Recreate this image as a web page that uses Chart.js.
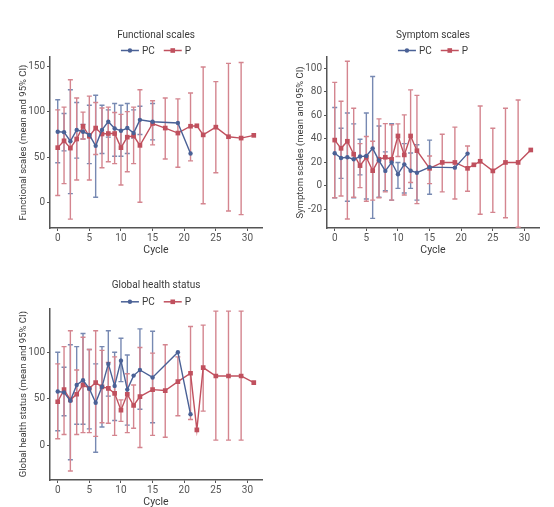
<!DOCTYPE html>
<html>
<head>
<meta charset="utf-8">
<script src="https://cdn.jsdelivr.net/npm/chart.js@4.4.1/dist/chart.umd.min.js"></script>
<style>
  body { margin: 0; background: #fff; width: 554px; height: 507px; position: relative; overflow: hidden; }
  .panel { position: absolute; width: 277px; height: 257px; }
</style>
</head>
<body>
<div class="panel" style="left:0;top:0"><canvas id="func"></canvas></div>
<div class="panel" style="left:277px;top:0"><canvas id="sym"></canvas></div>
<div class="panel" style="left:0;top:250px;height:259px"><canvas id="ghs"></canvas></div>
<script>
// cycles where each group was measured
const pcCycles = [0, 1, 2, 3, 4, 5, 6, 7, 8, 9, 10, 11, 12, 13, 15, 19, 21];
const pCycles = [0, 1, 2, 3, 4, 5, 6, 7, 8, 9, 10, 11, 12, 13, 15, 17, 19, 21, 22, 23, 25, 27, 29, 31];
const cycleTicks = [0, 5, 10, 15, 20, 25, 30];

// Functional scales
const funcPcMean = [78, 77.5, 67.5, 80, 78, 74.5, 62.5, 80, 89, 81.5, 79, 82, 76.5, 91, 89, 87.5, 54];
const funcPcLow = [44, 57, 10, 49, 70, 43, 6, 54, 72, 51, 51, 54, 71, 75, 69, null, null];
const funcPcHigh = [113, 98, 124, 110, 86, 107, 118, 107, 102, 109, 107, 109, 102, 106, 109, null, null];
const funcPMean = [60.5, 68, 60, 70, 84, 73, 82, 75.5, 76, 76, 60.5, 72, 73.5, 63, 87, 82, 76.5, 84, 84.5, 74.5, 83, 72.5, 71, 74];
const funcPLow = [8, 21, -18, 25, 70, 25, 53, 38.5, 45, 43, 19.5, 34, 43, 0.5, 63.5, 48, 39, 46, null, -1, 33, -9, -13, null];
const funcPHigh = [102, 105, 135, 115, 99.5, 117, 110, 104, 105, 99, 97, 100, 105, 124, 112, 115, 114, 120.5, null, 149, 133, 153, 154, null];
const funcTicks = [0, 50, 100, 150];

// Symptom scales
const symPcMean = [27.8, 23.8, 24.4, 22.7, 25, 25.5, 32, 21.6, 12.8, 20, 10, 18.4, 13, 11.3, 16, 15.6, 27.5];
const symPcLow = [-10, 6.5, -13, -10, 9.4, -11, -27.5, -9.6, -4, -12, -2, -6, -2, -12, -7, null, null];
const symPcHigh = [66.7, 49, 62, 52.8, 39.7, 62, 93, 51, 29, 53, 20, 36, 28, 35, 39, null, null];
const symPMean = [39, 32, 38, 27, 17.3, 24.4, 13, 22.7, 24.4, 22.7, 42.5, 26.4, 42.5, 30, 15, 20, 20, 15, 18, 21, 12.8, 20, 20, 30.6];
const symPLow = [-10, -8.5, -28, -9.6, -1.4, -13, -12, -10, -5, -12, 25, -7.7, 3, -15, 2, -5, -11, -4.5, null, -24, -22.4, -27, -35, null];
const symPHigh = [88, 72, 106, 66, 36, 42, 38, 57, 53, 52, 52.8, 60.4, 81.7, 77, 25.5, 44, 50, 34, null, 68, 49, 66, 73, null];
const symTicks = [-20, 0, 20, 40, 60, 80, 100];

// Global health status
const ghsPcMean = [58, 57, 48, 65, 70, 61, 46, 63, 87.5, 64, 91, 60, 75, 81, 73, 100, 33.6];
const ghsPcLow = [16, 32, -15, 23, 23, 18, -7, 20, 53, 27, 68.6, 22, null, 39, 24.6, null, null];
const ghsPcHigh = [100, 84, 108, 106, 120, 103, 87.5, 106, 123, 100, 115, 97, null, 125, 122.5, null, null];
const ghsPMean = [47, 60, 49, 55, 65, 61.5, 67.5, 63, 61.4, 56, 38, 55, 43, 52.5, 60, 59, 68.6, 77.5, 17, 83.6, 74.6, 74.6, 74.6, 67.5];
const ghsPLow = [7.5, 12, -27, 12, 14, 14, 10, 24.6, 24, 11, 26, 14, 18.6, -2, 11, 9, 32, 28, null, 37, 6, 6, 6, null];
const ghsPHigh = [87.5, 106, 123, 81, 116, 103, 123, 102, 89, 95, 49, 77, 65, 105, 99, 108, 95, 127.5, null, 129, 144, 144, 144, null];
const ghsTicks = [0, 50, 100];

const BLUE = '#4a6196';
const BLUE_BAR = '#7789b2';
const RED = '#c0505e';
const RED_BAR = '#d4858f';
const AXIS = '#555';
const TEXT = '#3a3a3a';
const FONT = "Roboto, 'Liberation Sans', sans-serif";

Chart.defaults.font.family = FONT;
Chart.defaults.color = TEXT;

// error bars drawn from the lo/hi of each point, through the chart scales
const errorBars = {
    id: 'errorBars',
    beforeDatasetsDraw(chart) {
        const { ctx, scales: { x, y } } = chart;
        chart.data.datasets.forEach(ds => {
            ctx.save();
            ctx.strokeStyle = ds.barColor;
            ctx.lineWidth = 1.4;
            ds.data.forEach(pt => {
                if (pt.lo == null) return;
                const px = x.getPixelForValue(pt.x);
                const top = y.getPixelForValue(pt.hi);
                const bot = y.getPixelForValue(pt.lo);
                ctx.beginPath();
                ctx.moveTo(px, top); ctx.lineTo(px, bot);
                ctx.moveTo(px - 2.5, top); ctx.lineTo(px + 2.5, top);
                ctx.moveTo(px - 2.5, bot); ctx.lineTo(px + 2.5, bot);
                ctx.stroke();
            });
            ctx.restore();
        });
    }
};

// small legend "—●— PC  —■— P" just above the plot
const lineLegend = {
    id: 'lineLegend',
    afterDraw(chart) {
        const { ctx, chartArea } = chart;
        const iconW = 18, gapText = 3, gapItem = 9;
        ctx.save();
        ctx.font = '10px ' + FONT;
        const items = chart.data.datasets.map(ds => ({ ds, w: ctx.measureText(ds.label).width }));
        const total = items.reduce((s, it) => s + iconW + gapText + it.w, 0) + gapItem * (items.length - 1);
        let x = (chartArea.left + chartArea.right) / 2 - total / 2;
        const y = chartArea.top - 6.5;
        items.forEach(({ ds, w }) => {
            ctx.strokeStyle = ds.borderColor; ctx.fillStyle = ds.borderColor; ctx.lineWidth = 1.5;
            ctx.beginPath(); ctx.moveTo(x, y); ctx.lineTo(x + iconW, y); ctx.stroke();
            if (ds.pointStyle === 'circle') { ctx.beginPath(); ctx.arc(x + iconW / 2, y, 2.2, 0, Math.PI * 2); ctx.fill(); }
            else ctx.fillRect(x + iconW / 2 - 2.3, y - 2.3, 4.6, 4.6);
            ctx.fillStyle = TEXT; ctx.textBaseline = 'middle'; ctx.textAlign = 'left';
            ctx.fillText(ds.label, x + iconW + gapText, y + 0.5);
            x += iconW + gapText + w + gapItem;
        });
        ctx.restore();
    }
};

function points(cycles, mean, low, high) {
    return cycles.map((c, i) => ({ x: c, y: mean[i], lo: low[i], hi: high[i] }));
}

function buildChart(id, title, yTitle, yMin, yMax, yTicks, xHeight, topPad, pcData, pData) {
    return new Chart(document.getElementById(id), {
        type: 'scatter',
        data: {
            datasets: [
                {
                    label: 'PC', data: pcData, showLine: true,
                    borderColor: BLUE, backgroundColor: BLUE, barColor: BLUE_BAR,
                    borderWidth: 1.4, pointStyle: 'circle', pointRadius: 2.2, pointBorderWidth: 0
                },
                {
                    label: 'P', data: pData, showLine: true,
                    borderColor: RED, backgroundColor: RED, barColor: RED_BAR,
                    borderWidth: 1.4, pointStyle: 'rect', pointRadius: 3.3, pointBorderWidth: 0
                }
            ]
        },
        options: {
            responsive: true,
            maintainAspectRatio: false,
            animation: false,
            layout: { padding: { top: 0, right: 15, left: 0, bottom: 0 } },
            scales: {
                x: {
                    type: 'linear', min: -1.22, max: 32.3,
                    afterBuildTicks: s => { s.ticks = cycleTicks.map(v => ({ value: v })); },
                    afterFit: s => { s.height = xHeight; },
                    grid: { display: true, drawOnChartArea: false, drawTicks: true, tickLength: 3, color: AXIS },
                    border: { color: AXIS, width: 1.5 },
                    ticks: { color: '#555', font: { size: 10 }, padding: 1, maxRotation: 0 },
                    title: { display: true, text: 'Cycle', color: TEXT, font: { size: 10.5 }, padding: { top: 0, bottom: 0 } }
                },
                y: {
                    min: yMin, max: yMax,
                    afterBuildTicks: s => { s.ticks = yTicks.map(v => ({ value: v })); },
                    afterFit: s => { s.width = 50; },
                    grid: { display: true, drawOnChartArea: false, drawTicks: true, tickLength: 3, color: AXIS },
                    border: { color: AXIS, width: 1.5 },
                    ticks: { color: '#555', font: { size: 10 }, padding: 2 },
                    title: { display: true, text: yTitle, color: TEXT, font: { size: 9.5 }, padding: { top: 18, bottom: 0 } }
                }
            },
            plugins: {
                title: {
                    display: true, text: title, fullSize: false, color: TEXT,
                    font: { size: 10, weight: 'normal' }, padding: { top: 29, bottom: topPad - 41 }
                },
                legend: { display: false },
                tooltip: { enabled: false }
            }
        },
        plugins: [errorBars, lineLegend]
    });
}

buildChart('func', 'Functional scales', 'Functional scales (mean and 95% CI)', -27.7, 160, funcTicks, 29, 57,
    points(pcCycles, funcPcMean, funcPcLow, funcPcHigh), points(pCycles, funcPMean, funcPLow, funcPHigh));
buildChart('sym', 'Symptom scales', 'Symptom scales (mean and 95% CI)', -35.7, 109.6, symTicks, 29, 57,
    points(pcCycles, symPcMean, symPcLow, symPcHigh), points(pCycles, symPMean, symPLow, symPHigh));
buildChart('ghs', 'Global health status', 'Global health status (mean and 95% CI)', -36.7, 147, ghsTicks, 29, 58.3,
    points(pcCycles, ghsPcMean, ghsPcLow, ghsPcHigh), points(pCycles, ghsPMean, ghsPLow, ghsPHigh));
</script>
</body>
</html>
